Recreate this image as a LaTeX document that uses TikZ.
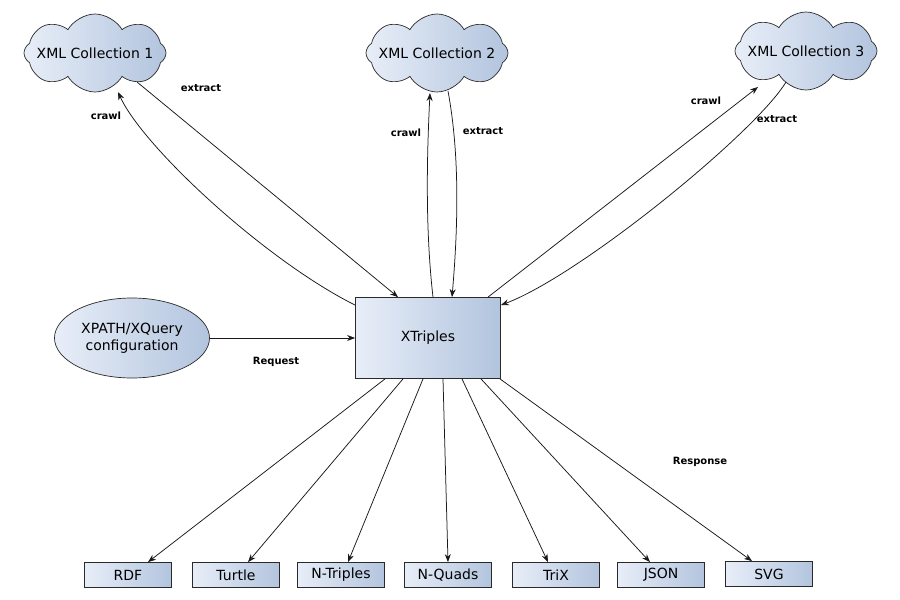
\documentclass[tikz,border=0pt]{standalone}
\usepackage{fontspec}
\setmainfont{DejaVu Sans}
\usetikzlibrary{shapes.symbols,shapes.geometric,arrows.meta,calc}
\definecolor{gradL}{HTML}{E8EEF8}
\definecolor{gradR}{HTML}{B2C4DE}
\definecolor{edgec}{HTML}{2A2A2A}
\begin{document}
\begin{tikzpicture}[x=1pt,y=-1pt,
  txt/.style={font=\fontsize{14}{17}\selectfont},
  cloudnode/.style={cloud, cloud puffs=8, cloud puff arc=120, aspect=1.9,
    draw=edgec, line width=0.7pt, left color=gradL, right color=gradR,
    minimum width=142pt, minimum height=78pt, inner sep=0pt},
  cloudtext/.style={txt, inner sep=0pt},
  boxnode/.style={draw=edgec, line width=0.8pt, left color=gradL, right color=gradR, txt},
  fmt/.style={boxnode, minimum width=87pt, minimum height=25pt, inner sep=0pt},
  ellnode/.style={ellipse, draw=edgec, line width=0.7pt, left color=gradL, right color=gradR,
    minimum width=155pt, minimum height=80pt, inner sep=0pt, align=center, txt},
  lab/.style={font=\fontsize{10}{12}\selectfont\bfseries, text=black},
  conn/.style={draw=black!90, line width=0.75pt, -{Stealth[length=8pt,width=6pt]}},
]
\useasboundingbox (0,0) rectangle (900,600);
\fill[white] (0,0) rectangle (900,600);

% nodes
\node[cloudnode] (c1) at (95,53) {};
\node[cloudtext] (t1) at (c1.center) {XML Collection 1};
\node[cloudnode] (c2) at (437,53) {};
\node[cloudtext] (t2) at (c2.center) {XML Collection 2};
\node[cloudnode] (c3) at (806,51) {};
\node[cloudtext] (t3) at (c3.center) {XML Collection 3};
\node[ellnode] (xq) at (132,338) {XPATH/XQuery\\configuration};
\node[boxnode, minimum width=145pt, minimum height=81pt] (xt) at (428,338) {XTriples};

\node[fmt] (rdf) at (128,575) {RDF};
\node[fmt] (ttl) at (236,575) {Turtle};
\node[fmt] (nt)  at (341,575) {N-Triples};
\node[fmt] (nq)  at (448,575) {N-Quads};
\node[fmt] (trix) at (556,575) {TriX};
\node[fmt] (json) at (661,575) {JSON};
\node[fmt] (svg) at (769,574) {SVG};

% top connectors
\coordinate (c1crawl) at ($(c1.center)+(23,39)$);
\coordinate (c1ext) at ($(c1.center)+(42,29)$);
\coordinate (c2crawl) at ($(c2.center)+(-7,40)$);
\coordinate (c2ext) at ($(c2.center)+(11,38)$);
\coordinate (c3crawl) at ($(c3.center)+(-48,36)$);
\coordinate (c3ext) at ($(c3.center)+(-20,31)$);

\draw[conn] ([yshift=-8pt]xt.north west) .. controls +(-90,-45) and ($(c1crawl)+(25,55)$) .. (c1crawl);
\draw[conn] (c1ext) -- ([xshift=-30pt]xt.north);
\draw[conn] ([xshift=5pt]xt.north) .. controls +(-8,-70) and ($(c2crawl)+(-3,60)$) .. (c2crawl);
\draw[conn] (c2ext) .. controls +(12,65) and ($([xshift=24pt]xt.north)+(6,-70)$) .. ([xshift=24pt]xt.north);
\draw[conn] ([xshift=60pt]xt.north) -- (c3crawl);
\draw[conn] (c3ext) .. controls +(-30,50) and ($([yshift=-8pt]xt.north east)+(80,-30)$) .. ([yshift=-8pt]xt.north east);

\draw[conn] (xq.east) -- (xt.west);

% bottom connectors
\draw[conn] ([xshift=-43pt]xt.south) -- ([xshift=20pt]rdf.north);
\draw[conn] ([xshift=-25pt]xt.south) -- ([xshift=12pt]ttl.north);
\draw[conn] ([xshift=-5pt]xt.south) -- ([xshift=7pt]nt.north);
\draw[conn] ([xshift=15pt]xt.south) -- (nq.north);
\draw[conn] ([xshift=34pt]xt.south) -- ([xshift=-8pt]trix.north);
\draw[conn] ([xshift=53pt]xt.south) -- ([xshift=-11pt]json.north);
\draw[conn] ([xshift=72pt]xt.south) -- ([xshift=-17pt]svg.north);

% labels
\node[lab] (l1) at (201,88) {extract};
\node[lab] (l2) at (106,116) {crawl};
\node[lab] (l3) at (406,133) {crawl};
\node[lab] (l4) at (483,131) {extract};
\node[lab] (l5) at (706,101) {crawl};
\node[lab] (l6) at (777,119) {extract};
\node[lab] (l7) at (276,362) {Request};
\node[lab] (l8) at (700,462) {Response};
\end{tikzpicture}
\end{document}
